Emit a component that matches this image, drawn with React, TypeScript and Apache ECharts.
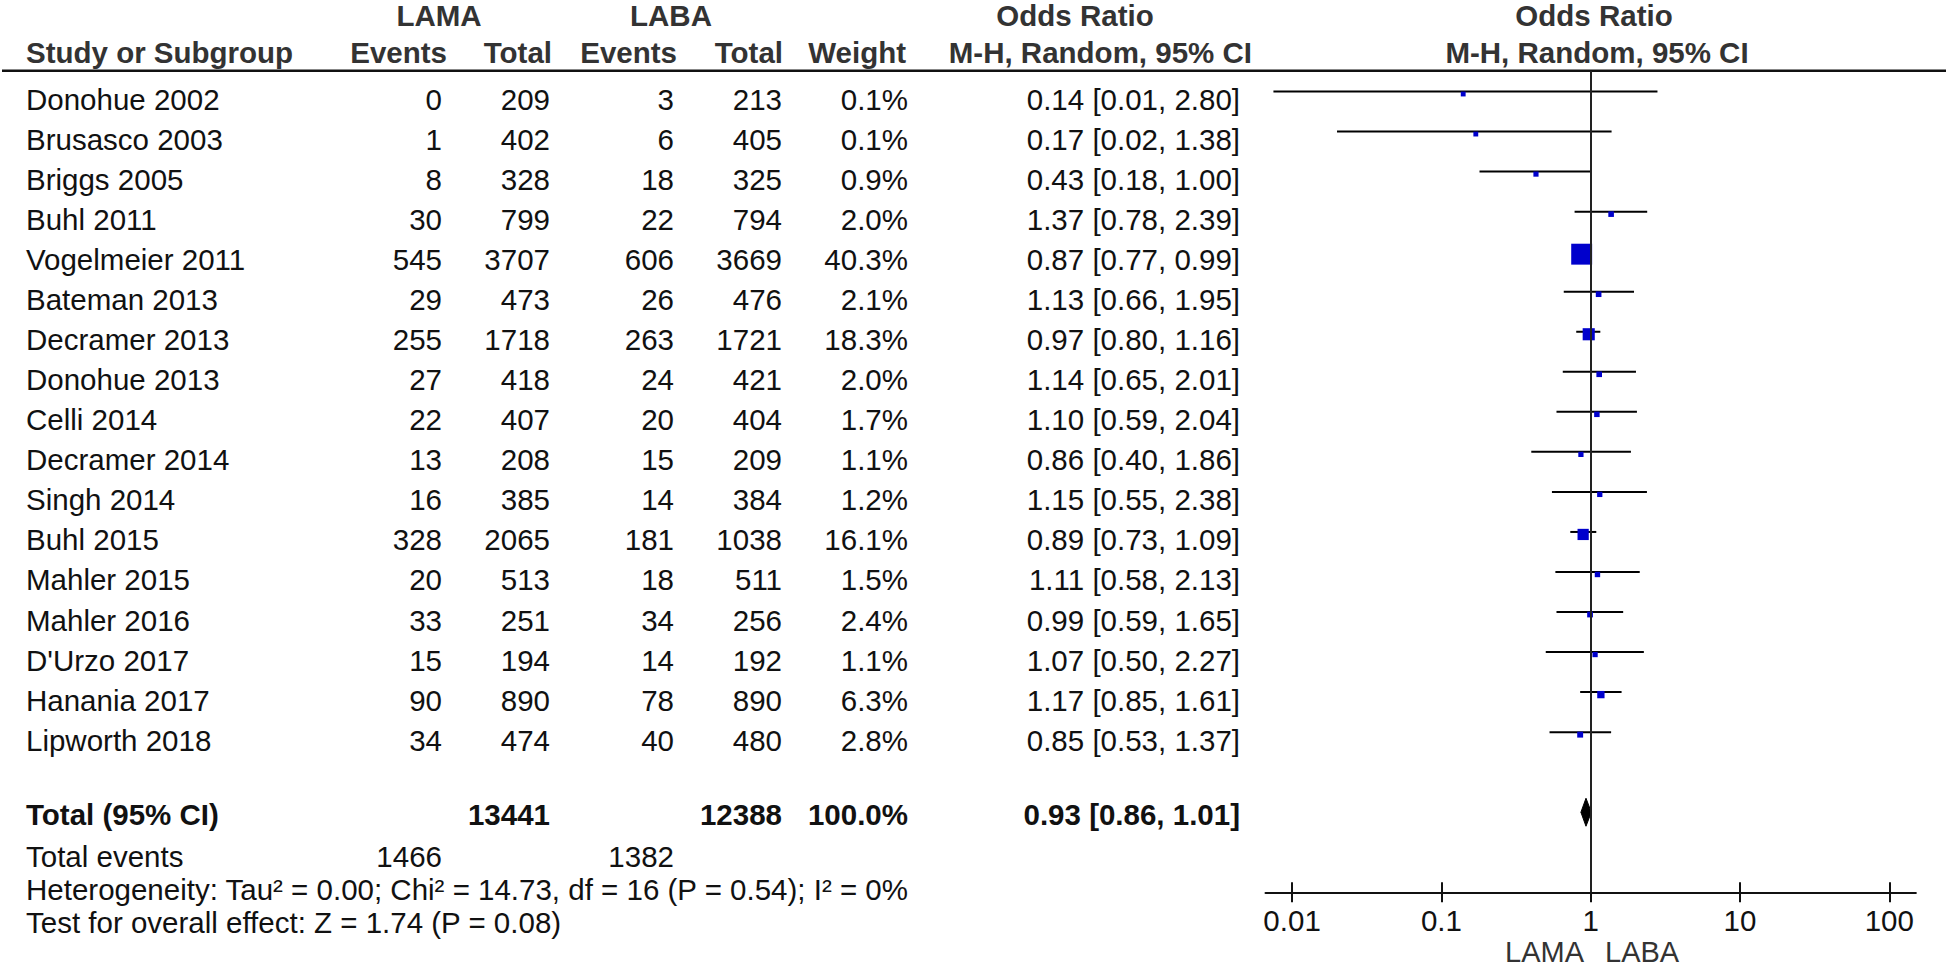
import React, { useEffect, useRef } from 'react';
import * as echarts from 'echarts';

const studies = ['Donohue 2002', 'Brusasco 2003', 'Briggs 2005', 'Buhl 2011', 'Vogelmeier 2011', 'Bateman 2013', 'Decramer 2013', 'Donohue 2013', 'Celli 2014', 'Decramer 2014', 'Singh 2014', 'Buhl 2015', 'Mahler 2015', 'Mahler 2016', "D'Urzo 2017", 'Hanania 2017', 'Lipworth 2018'];
const lamaEvents = [0, 1, 8, 30, 545, 29, 255, 27, 22, 13, 16, 328, 20, 33, 15, 90, 34];
const lamaTotal = [209, 402, 328, 799, 3707, 473, 1718, 418, 407, 208, 385, 2065, 513, 251, 194, 890, 474];
const labaEvents = [3, 6, 18, 22, 606, 26, 263, 24, 20, 15, 14, 181, 18, 34, 14, 78, 40];
const labaTotal = [213, 405, 325, 794, 3669, 476, 1721, 421, 404, 209, 384, 1038, 511, 256, 192, 890, 480];
const weights = [0.1, 0.1, 0.9, 2.0, 40.3, 2.1, 18.3, 2.0, 1.7, 1.1, 1.2, 16.1, 1.5, 2.4, 1.1, 6.3, 2.8];
const oddsRatio = [0.14, 0.17, 0.43, 1.37, 0.87, 1.13, 0.97, 1.14, 1.10, 0.86, 1.15, 0.89, 1.11, 0.99, 1.07, 1.17, 0.85];
const ciLower = [0.0075, 0.02, 0.18, 0.78, 0.77, 0.66, 0.80, 0.65, 0.59, 0.40, 0.55, 0.73, 0.58, 0.59, 0.50, 0.85, 0.53];
const ciUpper = [2.80, 1.38, 1.00, 2.39, 0.99, 1.95, 1.16, 2.01, 2.04, 1.86, 2.38, 1.09, 2.13, 1.65, 2.27, 1.61, 1.37];

const totalLama = 13441;
const totalLaba = 12388;
const totalWeight = '100.0%';
const totalEventsLama = 1466;
const totalEventsLaba = 1382;
const pooledOR = 0.93;
const pooledLower = 0.86;
const pooledUpper = 1.01;
const heterogeneityText = 'Heterogeneity: Tau² = 0.00; Chi² = 14.73, df = 16 (P = 0.54); I² = 0%';
const overallEffectText = 'Test for overall effect: Z = 1.74 (P = 0.08)';

const tickExps = [-2, -1, 0, 1, 2];
const tickLabels = ['0.01', '0.1', '1', '10', '100'];

const FONT = "'Liberation Sans', Arial, Helvetica, sans-serif";
const FS = 29.5;
const lg = Math.log10;
const f2 = (v: number) => v.toFixed(2);

export default function App() {
  const ref = useRef<HTMLDivElement>(null);
  useEffect(() => {
    const chart = echarts.init(ref.current!, null, { renderer: 'svg' });

    const graphic: any[] = [];
    const txt = (text: string, x: number, y: number, align: string, bold = false, color = '#111', size = FS) => {
      graphic.push({
        type: 'text', x, y, silent: true,
        style: { text, fontSize: size, fontFamily: FONT, fontWeight: bold ? 'bold' : 'normal', fill: color, align, verticalAlign: 'middle' },
      });
    };

    const ROW0 = 99.5;
    const ROWH = 40.04;
    const HC = '#333';
    // headers
    txt('LAMA', 439, 15, 'center', true, HC);
    txt('LABA', 671, 15, 'center', true, HC);
    txt('Odds Ratio', 1075, 15, 'center', true, HC);
    txt('Odds Ratio', 1594, 15, 'center', true, HC);
    txt('Study or Subgroup', 26, 52.5, 'left', true, HC);
    txt('Events', 447, 52.5, 'right', true, HC);
    txt('Total', 552, 52.5, 'right', true, HC);
    txt('Events', 677, 52.5, 'right', true, HC);
    txt('Total', 783, 52.5, 'right', true, HC);
    txt('Weight', 906, 52.5, 'right', true, HC);
    txt('M-H, Random, 95% CI', 1252, 52.5, 'right', true, HC);
    txt('M-H, Random, 95% CI', 1597, 52.5, 'center', true, HC);

    studies.forEach((s, i) => {
      const y = ROW0 + ROWH * i;
      txt(s, 26, y, 'left');
      txt(String(lamaEvents[i]), 442, y, 'right');
      txt(String(lamaTotal[i]), 550, y, 'right');
      txt(String(labaEvents[i]), 674, y, 'right');
      txt(String(labaTotal[i]), 782, y, 'right');
      txt(weights[i].toFixed(1) + '%', 908, y, 'right');
      txt(`${f2(oddsRatio[i])} [${f2(ciLower[i])}, ${f2(ciUpper[i])}]`, 1240, y, 'right');
    });

    const yT = 814;
    txt('Total (95% CI)', 26, yT, 'left', true);
    txt(String(totalLama), 550, yT, 'right', true);
    txt(String(totalLaba), 782, yT, 'right', true);
    txt(totalWeight, 908, yT, 'right', true);
    txt(`${f2(pooledOR)} [${f2(pooledLower)}, ${f2(pooledUpper)}]`, 1240, yT, 'right', true);
    txt('Total events', 26, 856, 'left');
    txt(String(totalEventsLama), 442, 856, 'right');
    txt(String(totalEventsLaba), 674, 856, 'right');
    txt(heterogeneityText, 26, 889, 'left');
    txt(overallEffectText, 26, 922, 'left');

    txt('LAMA', 1584, 952, 'right', false, HC, 29);
    txt('LABA', 1605, 952, 'left', false, HC, 29);

    graphic.push({
      type: 'line', silent: true,
      shape: { x1: 2, y1: 70.7, x2: 1946, y2: 70.7 },
      style: { stroke: '#111', lineWidth: 2.5 },
    });

    const axisCommon = {
      type: 'value', min: -2.178, max: 2.178, position: 'bottom', gridIndex: 0,
      splitLine: { show: false },
    };

    chart.setOption({
      animation: false,
      backgroundColor: '#fff',
      grid: { left: 1265.5, right: 30.1, top: 70.7, bottom: 75.7, containLabel: false },
      xAxis: [
        {
          ...axisCommon,
          axisLine: { show: true, onZero: false, lineStyle: { color: '#111', width: 2 } },
          axisTick: { show: true, inside: false, length: 10, customValues: tickExps, lineStyle: { color: '#111', width: 2 } },
          axisLabel: {
            show: true, customValues: tickExps, margin: 13, fontSize: FS, fontFamily: FONT, color: '#111',
            formatter: (v: number) => tickLabels[tickExps.indexOf(Math.round(v))] ?? '',
          },
        },
        {
          ...axisCommon,
          axisLine: { show: false, onZero: false },
          axisTick: { show: true, inside: true, length: 10, customValues: tickExps, lineStyle: { color: '#111', width: 2 } },
          axisLabel: { show: false },
        },
      ],
      yAxis: { type: 'value', min: -0.52, max: 20, inverse: true, show: false },
      graphic,
      series: [
        {
          type: 'custom',
          xAxisIndex: 0,
          z: 2,
          renderItem: (params: any, api: any) => {
            const p1 = api.coord([api.value(0), api.value(2)]);
            const p2 = api.coord([api.value(1), api.value(2)]);
            return { type: 'line', shape: { x1: p1[0], y1: p1[1], x2: p2[0], y2: p2[1] }, style: { stroke: '#000', lineWidth: 2 } };
          },
          encode: { x: [0, 1], y: 2 },
          data: studies.map((_, i) => [lg(ciLower[i]), lg(ciUpper[i]), i]),
          markLine: {
            silent: true, symbol: 'none', label: { show: false },
            lineStyle: { color: '#222', width: 2, type: 'solid' },
            data: [{ xAxis: 0 }],
          },
        },
        {
          type: 'scatter',
          xAxisIndex: 0,
          z: 3,
          symbol: 'rect',
          symbolOffset: [0, 2.5],
          symbolSize: (v: number[]) => 4.8 + 0.4 * v[2],
          itemStyle: { color: '#0000CC', opacity: 1 },
          data: studies.map((_, i) => [lg(oddsRatio[i]), i, weights[i]]),
        },
        {
          type: 'custom',
          xAxisIndex: 0,
          z: 3,
          renderItem: (params: any, api: any) => {
            const c = api.coord([api.value(0), api.value(3)]);
            const l = api.coord([api.value(1), api.value(3)]);
            const r = api.coord([api.value(2), api.value(3)]);
            const h = 14;
            return {
              type: 'polygon',
              shape: { points: [[l[0], c[1]], [c[0], c[1] - h], [r[0], c[1]], [c[0], c[1] + h]] },
              style: { fill: '#000', stroke: '#000', lineWidth: 1 },
            };
          },
          encode: { x: [0, 1, 2], y: 3 },
          data: [[lg(pooledOR), lg(pooledLower), lg(pooledUpper), 18]],
        },
      ],
    });
    return () => chart.dispose();
  }, []);

  return <div ref={ref} style={{ position: 'absolute', left: 0, top: 0, width: 1946, height: 968, background: '#fff' }} />;
}
